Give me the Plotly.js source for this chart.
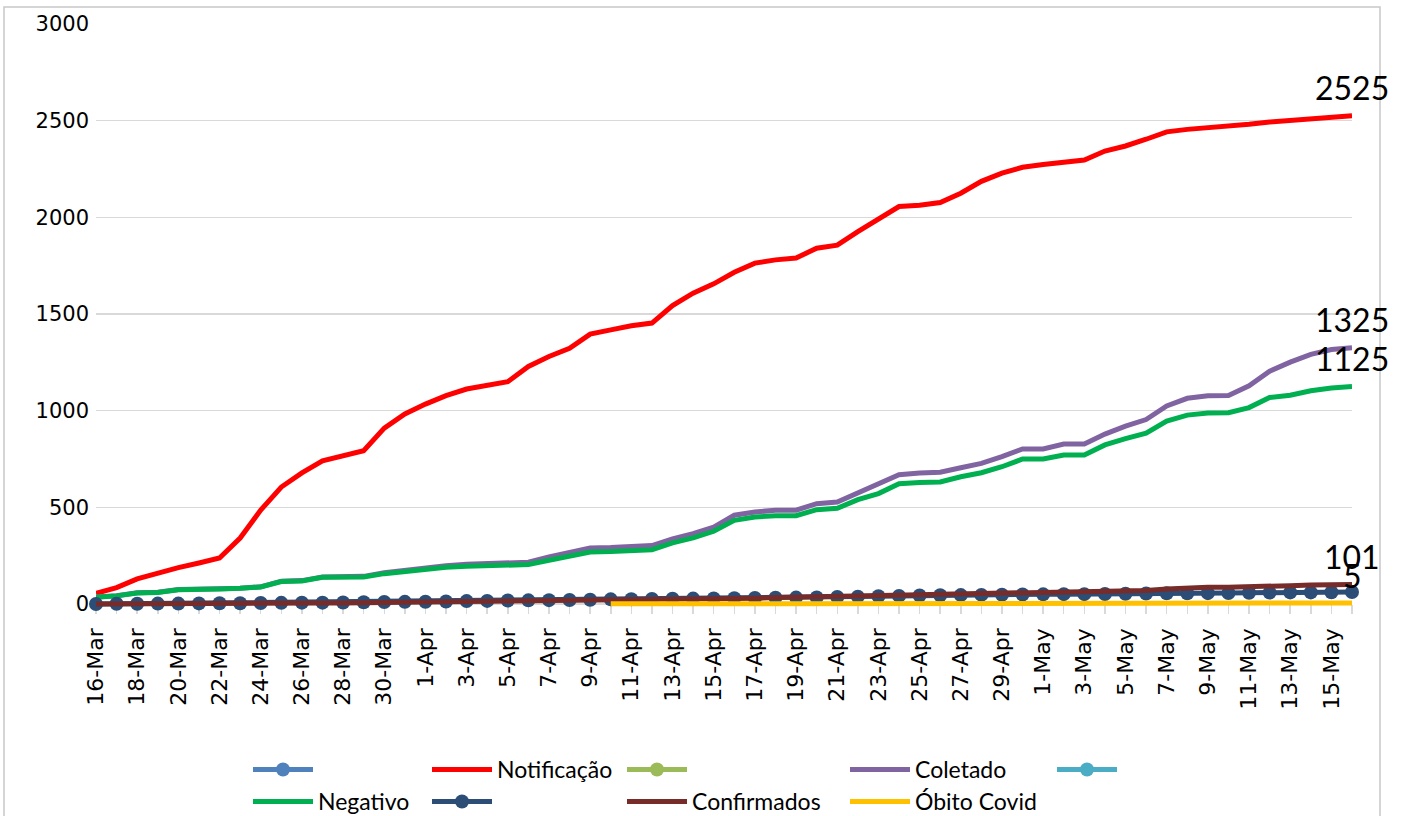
<!DOCTYPE html>
<html>
<head>
<meta charset="utf-8">
<script src="https://cdn.plot.ly/plotly-3.0.1.min.js"></script>
<style>html,body{margin:0;padding:0;background:#fff;}#chart{width:1408px;height:816px;}</style>
</head>
<body>
<div id="chart"></div>
<script>
// Categories (days)
const datas = [
  "16-Mar","17-Mar","18-Mar","19-Mar","20-Mar","21-Mar","22-Mar","23-Mar","24-Mar","25-Mar","26-Mar","27-Mar","28-Mar","29-Mar","30-Mar","31-Mar",
  "1-Apr","2-Apr","3-Apr","4-Apr","5-Apr","6-Apr","7-Apr","8-Apr","9-Apr","10-Apr","11-Apr","12-Apr","13-Apr","14-Apr","15-Apr",
  "16-Apr","17-Apr","18-Apr","19-Apr","20-Apr","21-Apr","22-Apr","23-Apr","24-Apr","25-Apr","26-Apr","27-Apr","28-Apr","29-Apr","30-Apr",
  "1-May","2-May","3-May","4-May","5-May","6-May","7-May","8-May","9-May","10-May","11-May","12-May","13-May","14-May","15-May","16-May"
];

const notificacao = [
  55,85,130,160,188,212,238,341,486,605,678,740,765,793,910,983,
  1034,1078,1112,1131,1150,1229,1280,1323,1396,1418,1439,1453,1544,1608,1656,
  1716,1763,1780,1790,1840,1856,1926,1990,2056,2062,2077,2125,2186,2229,2259,
  2273,2287,2296,2343,2369,2404,2442,2455,2462,2470,2481,2493,2502,2509,2516,2525
];

const coletado = [
  36,43,58,61,75,75,79,82,89,118,121,140,141,143,162,176,
  188,198,205,210,216,216,243,267,290,292,298,302,337,364,398,
  459,476,485,485,519,528,574,617,669,678,682,705,727,762,802,
  802,827,827,879,920,954,1024,1064,1077,1078,1129,1204,1251,1291,1316,1325
];

const negativo = [
  35,42,57,60,74,74,78,81,88,116,119,138,138,140,157,169,
  181,190,195,198,202,204,226,250,269,271,278,281,316,342,376,
  433,450,457,457,488,495,540,571,622,629,631,658,679,710,750,
  750,771,771,823,855,884,946,977,988,989,1016,1068,1080,1103,1117,1125
];

const serieMarcador = [
  0,1,1,2,2,3,4,4,5,6,7,7,8,9,10,11,
  12,13,15,16,18,19,20,21,22,24,25,26,27,28,29,
  30,31,32,33,34,36,38,40,42,44,45,46,47,48,49,
  50,51,51,52,53,54,55,55,56,57,58,59,60,60,61,62
];

const confirmados = [
  0,1,1,1,2,2,2,3,3,4,4,5,5,6,7,8,
  9,10,11,12,13,14,15,16,17,18,19,20,22,24,26,
  28,30,33,36,38,40,42,44,46,48,50,52,54,56,58,
  60,61,62,63,66,70,78,84,86,87,88,91,95,98,100,101
];

const obitoCovid = [
  null,null,null,null,null,null,null,null,null,null,null,null,null,null,null,null,
  null,null,null,null,null,null,null,null,null,1,1,1,1,1,1,
  2,2,2,2,2,2,2,2,3,3,3,3,3,3,3,
  3,3,3,4,4,4,4,4,4,4,5,5,5,5,5,5
];

// Series with no visible values (legend entries only)
const serieVazia = [null];

const yTicks = [0,500,1000,1500,2000,2500,3000];
const xTickText = datas.map((d,i) => (i % 2 === 0 ? d : ""));

const LW = 5;
function mk(name, y, color, markers, legendId, lw) {
  const t = {
    type: 'scatter',
    x: datas.slice(0, y.length),
    y: y,
    name: name,
    mode: markers ? 'lines+markers' : 'lines',
    line: {color: color, width: LW},
    legend: legendId,
    legendwidth: lw,
    connectgaps: false,
    cliponaxis: false
  };
  if (markers) t.marker = {color: color, size: 14, symbol: 'circle'};
  return t;
}

const traces = [
  mk(' ', serieVazia, '#4F81BD', true, 'legend', 104),
  mk('Notificação', notificacao, '#FF0000', false, 'legend', 120),
  mk(' ', serieVazia, '#9BBB59', true, 'legend', 148),
  mk('Coletado', coletado, '#8064A2', false, 'legend', 132),
  mk(' ', serieVazia, '#4BACC6', true, 'legend', 30),
  mk('Negativo', negativo, '#00B050', false, 'legend2', 104),
  mk(' ', serieMarcador, '#2C4D75', true, 'legend2', 120),
  mk('Confirmados', confirmados, '#772C2A', false, 'legend2', 148),
  mk('Óbito Covid', obitoCovid, '#FFC000', false, 'legend2', 132)
];

const labelSeries = [notificacao, coletado, negativo, confirmados, obitoCovid];
const annotations = labelSeries.map(s => ({
  x: datas[s.length - 1],
  y: s[s.length - 1],
  xref: 'x', yref: 'y',
  text: String(s[s.length - 1]),
  showarrow: false,
  yshift: 28,
  xanchor: 'center', yanchor: 'middle',
  font: {family: 'Lato, sans-serif', size: 32, color: '#000'}
}));

// Plot area: 0 at y=604 px, 3000 at y=24 px; a small strip below 0 so thick lines at 0 are not clipped
const W = 1408, H = 816, L = 96, R = 56, T = 24, B = 208;
const yMin = -20.69, yMax = 3000;
const pw = W - L - R, ph = H - T - B;
const px = v => (v - L) / pw;
const py = v => (H - B - v) / ph;
const zeroPos = (0 - yMin) / (yMax - yMin);

const layout = {
  width: W, height: H,
  margin: {l: L, r: R, t: T, b: B, pad: 0, autoexpand: false},
  paper_bgcolor: '#ffffff',
  plot_bgcolor: '#ffffff',
  font: {family: 'DejaVu Sans, sans-serif', color: '#000'},
  showlegend: true,
  xaxis: {
    type: 'category',
    range: [0, datas.length - 1],
    anchor: 'free',
    position: zeroPos,
    tickmode: 'array',
    tickvals: datas,
    ticktext: xTickText,
    tickangle: -90,
    ticks: 'outside',
    ticklen: 9,
    tickcolor: '#d9d9d9',
    tickwidth: 1.5,
    ticklabelstandoff: 5,
    showline: true,
    linecolor: '#d9d9d9',
    linewidth: 1.5,
    layer: 'below traces',
    showgrid: false,
    zeroline: false,
    automargin: false,
    tickfont: {family: 'DejaVu Sans, sans-serif', size: 22, color: '#000'},
    fixedrange: true
  },
  yaxis: {
    range: [yMin, yMax],
    tickmode: 'array',
    tickvals: yTicks,
    ticktext: yTicks.map(String),
    showgrid: true,
    gridcolor: '#d9d9d9',
    gridwidth: 1.5,
    zeroline: false,
    showline: false,
    ticks: '',
    ticklabelstandoff: 6,
    automargin: false,
    layer: 'below traces',
    tickfont: {family: 'DejaVu Sans, sans-serif', size: 21, color: '#000'},
    fixedrange: true
  },
  legend: {
    orientation: 'h',
    x: px(248), xanchor: 'left',
    y: py(748), yanchor: 'top',
    itemwidth: 60,
    font: {family: 'Lato, sans-serif', size: 23, color: '#000'},
    bgcolor: 'rgba(0,0,0,0)',
    traceorder: 'normal'
  },
  legend2: {
    orientation: 'h',
    x: px(248), xanchor: 'left',
    y: py(780), yanchor: 'top',
    itemwidth: 60,
    font: {family: 'Lato, sans-serif', size: 23, color: '#000'},
    bgcolor: 'rgba(0,0,0,0)',
    traceorder: 'normal'
  },
  annotations: annotations,
  shapes: [{
    type: 'rect', xref: 'paper', yref: 'paper',
    x0: px(4), x1: px(1380), y0: py(830), y1: py(7),
    line: {color: '#c8c8c8', width: 1.5},
    fillcolor: 'rgba(0,0,0,0)',
    layer: 'below'
  }]
};

Plotly.newPlot('chart', traces, layout, {displayModeBar: false, staticPlot: true});
</script>
</body>
</html>
